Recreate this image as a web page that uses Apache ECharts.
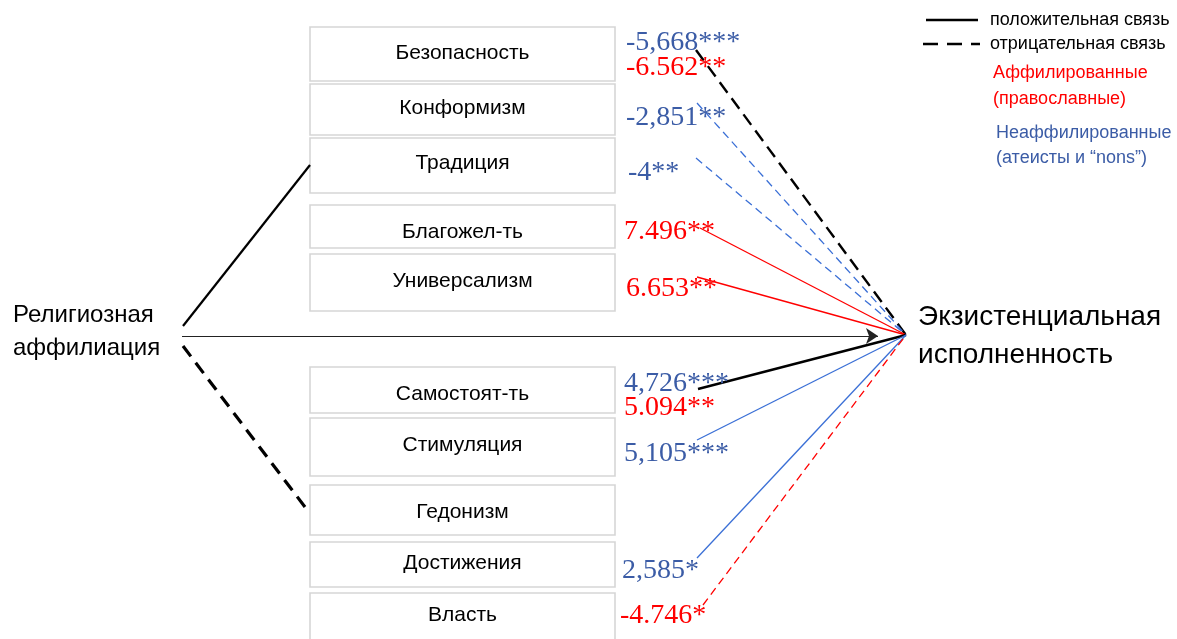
<!DOCTYPE html>
<html><head><meta charset="utf-8">
<script src="https://cdn.jsdelivr.net/npm/echarts@6/dist/echarts.min.js"></script>
<style>html,body{margin:0;padding:0;background:#fff}#c{width:1177px;height:639px}</style>
</head><body><div id="c"></div>
<script>
// ---- data ----
const values = ['Безопасность','Конформизм','Традиция','Благожел-ть','Универсализм','Самостоят-ть','Стимуляция','Гедонизм','Достижения','Власть'];
const coefNonAffiliated = ['-5,668***','-2,851**','-4**',null,null,'4,726***','5,105***',null,'2,585*',null];
const coefAffiliated    = ['-6.562**',null,null,'7.496**','6.653**','5.094**',null,null,null,'-4.746*'];
// link: which group the drawn path belongs to and its sign
const linkGroup = ['both','non','non','aff','aff','both','non',null,'non','aff'];
const linkSign  = ['neg','neg','neg','pos','pos','pos','pos',null,'pos','neg'];
const sourceLabel = ['Религиозная','аффилиация'];
const targetLabel = ['Экзистенциальная','исполненность'];
const legendSign = ['положительная связь','отрицательная связь'];
const legendGroups = [['Аффилированные','(православные)'],['Неаффилированные','(атеисты и “nons”)']];

// ---- layout (diagram coordinates) ----
const boxX = [310, 615];
const boxTop    = [27, 84, 138, 205, 254, 367, 418, 485, 542, 593];
const boxBottom = [81, 135, 193, 248, 311, 413, 476, 535, 587, 650];
const boxLabelY = [53, 108, 163, 232, 281, 394, 445, 512, 563, 615];
const nonLabelPos = [[626,43],[626,118],[628,173],null,null,[624,384],[624,454],null,[622,571],null];
const affLabelPos = [[626,68],null,null,[624,232],[626,289],[624,408],null,null,null,[620,616]];
const linkStart = [[696,50],[697,103],[696,158],[700,228],[697,277],[698,389],[697,440],null,[697,558],[703,605]];
const hub = [906,335];

const RED = '#ff0000', BLUE_T = '#3b5ca6', BLUE_L = '#3a6fd6', BLACK = '#000';
const SANS = '"Liberation Sans", Arial, sans-serif';
const SERIF = '"Liberation Serif", "Times New Roman", serif';

// ---- build ----
const boxData = values.map((v,i)=>[boxX[0], boxTop[i], boxX[1], boxBottom[i], v, boxLabelY[i]]);

const linkData = [];
values.forEach((v,i)=>{
  if(!linkGroup[i]) return;
  const g = linkGroup[i], s = linkSign[i];
  const color = g==='both'?BLACK:(g==='aff'?RED:BLUE_L);
  const width = g==='both'?2.4:1.3;
  const type = s==='pos'?'solid':(g==='both'?[13,7]:[8,5]);
  linkData.push({coords:[linkStart[i], hub], lineStyle:{color, width, type, opacity:1}});
});
// left side paths
linkData.push({coords:[[183,326],[310,165]], lineStyle:{color:BLACK,width:2.2,type:'solid',opacity:1}});
linkData.push({coords:[[183,346],[308,511]], lineStyle:{color:BLACK,width:3.2,type:[13,8],opacity:1}});
// legend samples
linkData.push({coords:[[926,20],[978,20]], lineStyle:{color:BLACK,width:2.4,type:'solid',opacity:1}});
linkData.push({coords:[[923,44],[980,44]], lineStyle:{color:BLACK,width:2.4,type:[15,9],opacity:1}});

const texts = [];
values.forEach((v,i)=>{
  if(coefNonAffiliated[i]) texts.push([nonLabelPos[i][0], nonLabelPos[i][1], coefNonAffiliated[i], BLUE_T, '28px '+SERIF, 'left']);
  if(coefAffiliated[i]) texts.push([affLabelPos[i][0], affLabelPos[i][1], coefAffiliated[i], RED, '28px '+SERIF, 'left']);
});
texts.push([13,315,sourceLabel[0],BLACK,'24px '+SANS,'left']);
texts.push([13,348,sourceLabel[1],BLACK,'24px '+SANS,'left']);
texts.push([918,317,targetLabel[0],BLACK,'28px '+SANS,'left']);
texts.push([918,355,targetLabel[1],BLACK,'28px '+SANS,'left']);
texts.push([990,20,legendSign[0],BLACK,'18px '+SANS,'left']);
texts.push([990,44,legendSign[1],BLACK,'18px '+SANS,'left']);
texts.push([993,73,legendGroups[0][0],RED,'18px '+SANS,'left']);
texts.push([993,99,legendGroups[0][1],RED,'18px '+SANS,'left']);
texts.push([996,133,legendGroups[1][0],BLUE_T,'18px '+SANS,'left']);
texts.push([996,158,legendGroups[1][1],BLUE_T,'18px '+SANS,'left']);

const chart = echarts.init(document.getElementById('c'), null, {renderer:'canvas'});
chart.setOption({
  animation:false,
  backgroundColor:'#fff',
  grid:{left:0,right:0,top:0,bottom:0},
  xAxis:{type:'value',min:0,max:1177,show:false},
  yAxis:{type:'value',min:0,max:639,inverse:true,show:false},
  series:[
    {
      type:'custom', coordinateSystem:'cartesian2d', z:1,
      data:boxData,
      renderItem:(params, api)=>{
        const p1 = api.coord([api.value(0), api.value(1)]);
        const p2 = api.coord([api.value(2), api.value(3)]);
        const lc = api.coord([(api.value(0)+api.value(2))/2, boxData[params.dataIndex][5]]);
        return {type:'group', children:[
          {type:'rect', shape:{x:p1[0], y:p1[1], width:p2[0]-p1[0], height:p2[1]-p1[1]},
           style:{fill:'#fff', stroke:'#d6d6d6', lineWidth:1.6}},
          {type:'text', x:lc[0], y:lc[1],
           style:{text:boxData[params.dataIndex][4], fill:'#000', font:'21px '+SANS, align:'center', verticalAlign:'middle', textAlign:'center', textVerticalAlign:'middle'}}
        ]};
      }
    },
    {
      type:'lines', coordinateSystem:'cartesian2d', z:3, polyline:false,
      data:[{coords:[[182,336],[878,336]]}],
      lineStyle:{color:'#222', width:1.2, type:'solid', opacity:1},
      symbol:['none','arrow'], symbolSize:[0,12]
    },
    {
      type:'lines', coordinateSystem:'cartesian2d', z:4, polyline:false,
      data:linkData, symbol:['none','none']
    },
    {
      type:'custom', coordinateSystem:'cartesian2d', z:5,
      data:texts,
      renderItem:(params, api)=>{
        const d = texts[params.dataIndex];
        const p = api.coord([d[0], d[1]]);
        return {type:'text', x:p[0], y:p[1],
          style:{text:d[2], fill:d[3], font:d[4], align:d[5], verticalAlign:'middle', textAlign:d[5], textVerticalAlign:'middle'}};
      }
    }
  ]
});
</script></body></html>
